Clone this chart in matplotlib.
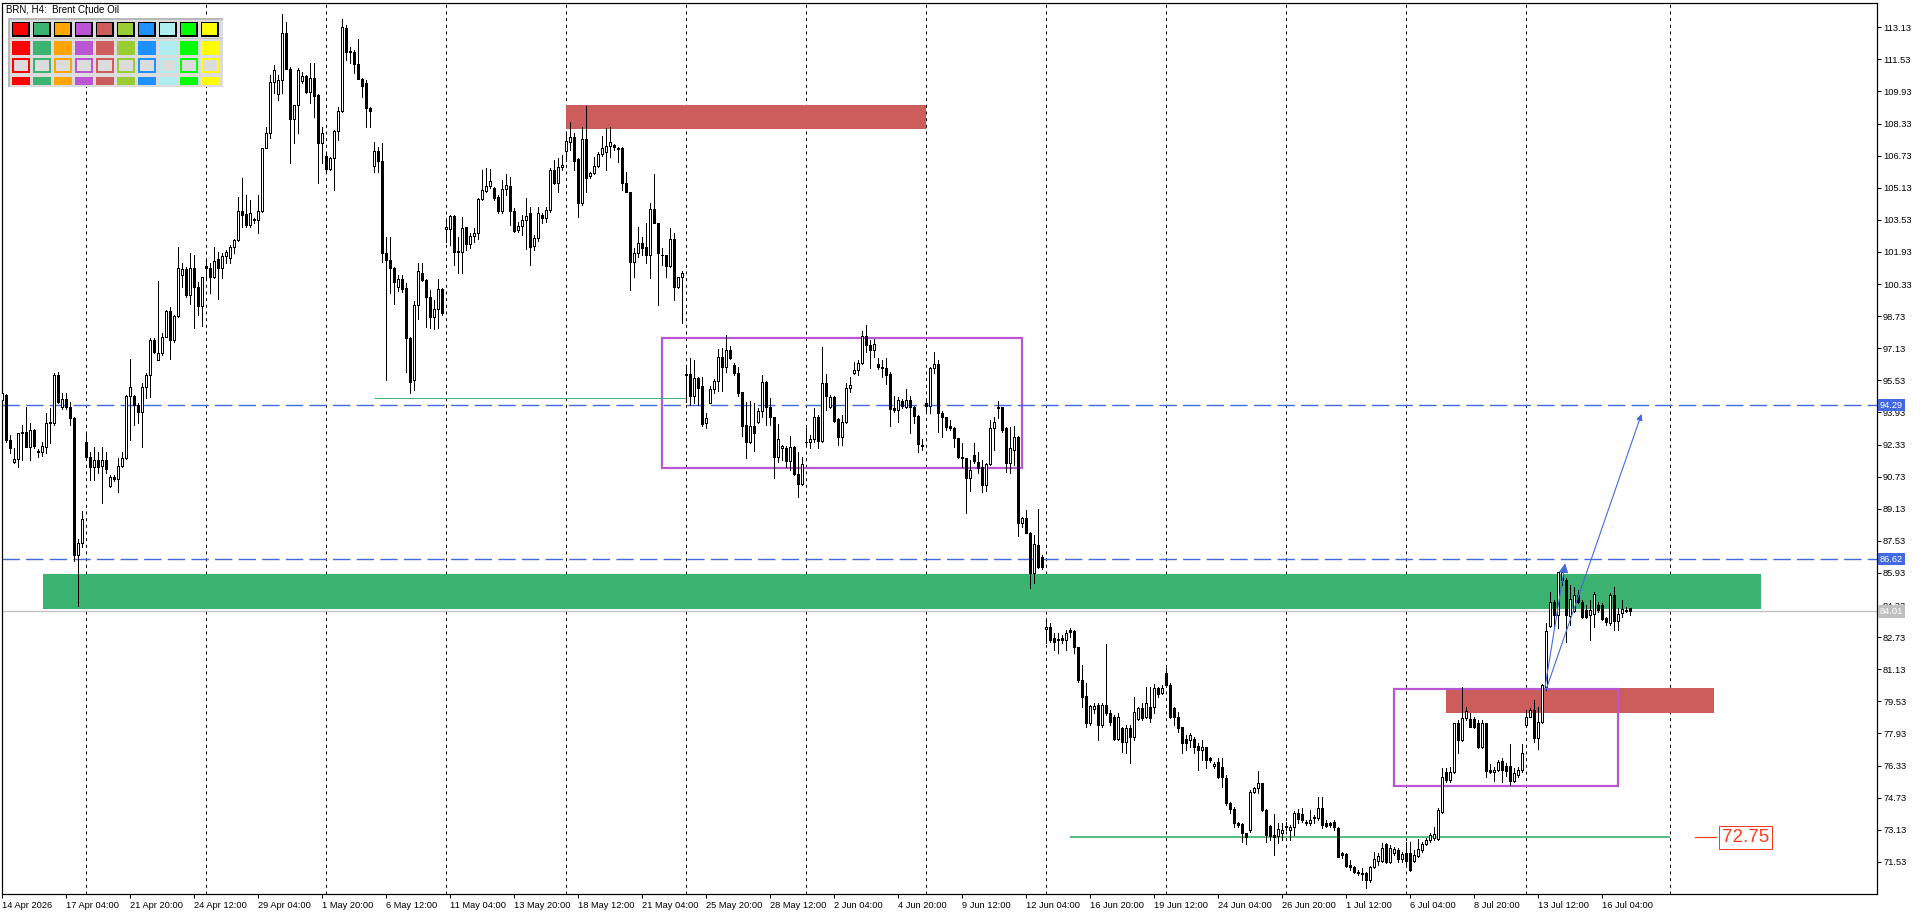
import matplotlib
matplotlib.use("Agg")
import matplotlib.pyplot as plt
from matplotlib.patches import Rectangle
from matplotlib.collections import PatchCollection, LineCollection
from matplotlib.transforms import blended_transform_factory

W, H, DPI = 1920, 915, 100
PX = 72.0 / DPI          # one screen pixel in points
plt.rcParams['lines.scale_dashes'] = False
plt.rcParams['font.family'] = ['Liberation Sans', 'DejaVu Sans']

# ---------------- data (H4 bars, 14 Apr 2026 12:00 .. 17 Jul 2026) ----------------
opens = [
    94.55, 94.80, 92.56, 91.47, 91.59, 92.89, 92.94, 92.22, 93.05, 92.00,
    91.94, 92.22, 93.42, 93.40, 95.80, 94.18, 94.60, 94.22, 93.64, 86.80,
    87.40, 92.47, 91.69, 91.19, 91.56, 91.26, 91.56, 90.28, 90.73, 90.60,
    91.26, 91.64, 94.75, 94.75, 94.30, 93.93, 95.18, 95.80, 97.54, 96.54,
    96.88, 97.71, 98.99, 97.54, 98.74, 100.78, 101.06, 99.78, 101.15, 100.17,
    99.24, 101.25, 101.11, 100.66, 101.56, 101.11, 101.74, 101.61, 102.19, 102.53,
    103.99, 103.82, 103.27, 103.52, 103.52, 103.99, 107.10, 107.84, 110.39, 109.79,
    110.50, 112.83, 111.03, 108.54, 109.24, 110.44, 110.70, 109.89, 110.60, 109.75,
    107.35, 106.71, 106.07, 106.60, 107.98, 108.94, 113.08, 111.96, 111.91, 111.30,
    110.57, 110.34, 109.09, 106.21, 106.98, 106.46, 101.86, 101.53, 101.15, 100.20,
    100.57, 100.11, 97.62, 95.54, 99.28, 100.90, 100.53, 99.67, 98.70, 99.07,
    100.06, 103.06, 103.06, 103.72, 101.99, 101.91, 103.16, 102.32, 102.72, 102.86,
    104.57, 104.98, 105.22, 105.10, 104.68, 103.99, 105.05, 105.22, 103.99, 103.02,
    103.22, 103.52, 103.89, 102.22, 102.61, 103.77, 103.61, 104.02, 106.01, 105.35,
    106.15, 106.98, 107.43, 107.68, 106.55, 104.35, 107.54, 105.71, 105.85, 106.21,
    106.81, 106.93, 107.21, 107.24, 107.10, 107.10, 105.38, 104.93, 101.45, 101.89,
    102.36, 102.16, 101.78, 104.06, 103.36, 101.80, 101.78, 101.23, 102.56, 100.20,
    100.66, 95.83, 95.83, 94.77, 95.63, 95.25, 93.39, 94.42, 95.08, 95.50,
    96.68, 96.18, 97.04, 96.30, 95.88, 94.97, 93.30, 92.47, 93.26, 93.47,
    94.02, 95.47, 94.22, 93.69, 91.69, 92.14, 92.18, 91.53, 92.23, 90.86,
    90.36, 92.44, 92.48, 92.59, 93.72, 92.53, 95.38, 94.22, 94.68, 93.59,
    92.72, 93.47, 95.13, 95.92, 96.05, 96.38, 97.74, 97.29, 97.04, 96.35,
    96.18, 96.13, 95.85, 94.14, 94.05, 94.52, 94.22, 94.55, 94.19, 93.75,
    92.31, 94.39, 94.25, 96.13, 96.35, 93.92, 93.69, 93.26, 93.14, 92.64,
    91.64, 91.64, 90.65, 91.81, 91.48, 91.23, 90.31, 91.36, 93.14, 94.14,
    94.19, 93.14, 91.40, 92.06, 92.72, 88.44, 88.65, 87.94, 85.91, 87.32,
    86.71, 83.12, 83.22, 82.67, 82.60, 82.67, 82.58, 83.08, 83.05, 82.22,
    80.59, 79.79, 78.46, 79.13, 79.35, 78.35, 79.35, 78.93, 78.76, 77.63,
    78.18, 77.52, 78.18, 77.77, 78.65, 79.18, 78.76, 79.26, 79.26, 80.18,
    79.95, 80.96, 80.34, 79.18, 78.76, 78.23, 77.63, 77.60, 77.63, 77.30,
    77.10, 77.23, 76.69, 76.30, 76.52, 76.24, 75.69, 74.48, 74.14, 73.48,
    73.41, 72.95, 73.11, 75.02, 75.19, 75.44, 74.11, 73.31, 72.86, 72.81,
    72.95, 73.31, 73.11, 73.25, 73.94, 73.91, 73.53, 73.48, 73.70, 73.70,
    74.19, 73.48, 73.48, 73.53, 73.20, 71.95, 71.92, 71.35, 71.25, 71.04,
    70.99, 70.95, 70.62, 71.25, 71.59, 71.59, 72.41, 71.53, 71.95, 72.12,
    71.65, 71.95, 71.98, 71.59, 71.82, 72.12, 72.41, 72.61, 72.70, 72.65,
    74.03, 76.02, 75.61, 76.02, 78.43, 77.60, 78.68, 78.63, 78.63, 78.43,
    77.23, 78.43, 76.10, 76.02, 76.10, 76.57, 76.30, 76.30, 75.57, 75.86,
    76.10, 78.35, 78.76, 79.10, 77.68, 78.51, 80.26, 83.28, 84.50, 83.83,
    85.58, 85.58, 83.78, 84.05, 84.83, 84.50, 84.08, 83.83, 83.88, 84.33,
    84.33, 83.67, 83.42, 84.83, 83.55, 83.95, 84.05, 84.16,
]
highs = [
    95.00, 94.85, 92.80, 92.14, 92.89, 93.30, 94.20, 93.40, 93.10, 92.10,
    92.46, 93.88, 94.13, 95.90, 95.96, 94.88, 94.88, 94.47, 93.70, 87.60,
    89.00, 92.89, 91.97, 92.22, 91.97, 92.22, 91.97, 90.81, 90.80, 91.64,
    91.97, 94.80, 96.58, 94.80, 94.38, 95.38, 95.91, 97.62, 97.62, 100.48,
    97.87, 99.04, 99.20, 98.79, 102.19, 101.36, 101.20, 101.86, 101.78, 100.45,
    100.70, 101.53, 101.36, 102.16, 101.94, 101.86, 102.03, 102.28, 102.59, 104.65,
    105.60, 104.77, 104.52, 103.60, 104.77, 107.11, 108.17, 110.75, 111.25, 110.75,
    113.79, 113.41, 111.17, 109.24, 111.08, 110.92, 110.75, 111.33, 111.33, 109.80,
    108.18, 106.85, 106.65, 108.01, 109.17, 113.53, 113.24, 112.16, 111.99, 112.53,
    110.59, 110.50, 109.17, 107.43, 107.18, 107.38, 102.69, 102.69, 101.20, 100.80,
    100.78, 100.37, 97.71, 99.50, 101.39, 101.36, 100.56, 100.03, 99.53, 100.56,
    100.11, 103.52, 103.77, 103.77, 102.66, 103.69, 103.19, 102.86, 103.11, 104.60,
    106.01, 106.10, 106.05, 105.18, 104.77, 105.51, 105.81, 105.68, 104.10, 103.44,
    103.77, 104.60, 104.19, 102.77, 104.19, 103.85, 104.19, 106.10, 106.51, 106.59,
    106.76, 107.84, 108.42, 107.84, 106.59, 108.14, 109.20, 105.93, 106.68, 106.93,
    107.71, 108.09, 108.17, 107.30, 107.18, 107.18, 105.93, 104.93, 102.11, 103.19,
    102.69, 103.36, 104.35, 105.80, 103.39, 102.11, 101.78, 103.11, 102.86, 100.70,
    100.99, 96.21, 96.63, 96.55, 95.72, 95.72, 93.89, 95.25, 95.58, 97.08,
    97.13, 97.79, 97.24, 96.38, 96.18, 94.97, 94.47, 94.52, 94.39, 94.14,
    95.80, 95.52, 94.64, 93.72, 93.36, 92.31, 92.26, 92.76, 92.26, 91.98,
    91.73, 93.14, 92.81, 94.14, 93.80, 97.21, 95.85, 94.80, 94.75, 93.64,
    93.80, 95.42, 95.68, 96.46, 96.55, 98.01, 98.29, 97.54, 97.58, 96.63,
    96.55, 96.63, 95.96, 94.75, 94.72, 94.59, 95.08, 94.75, 94.25, 93.80,
    92.59, 94.64, 96.21, 96.96, 96.55, 94.02, 93.72, 93.55, 93.22, 92.64,
    92.39, 91.64, 91.56, 92.39, 91.98, 91.56, 91.40, 93.55, 93.72, 94.52,
    94.22, 93.19, 93.19, 93.26, 92.76, 88.74, 89.07, 87.99, 87.82, 89.10,
    86.83, 83.58, 83.42, 82.92, 82.92, 82.83, 83.08, 83.17, 83.08, 82.25,
    81.34, 80.42, 79.35, 79.43, 79.43, 79.43, 82.39, 79.10, 78.85, 78.93,
    78.26, 78.35, 78.35, 79.76, 79.26, 79.43, 80.26, 80.26, 80.39, 80.26,
    80.34, 81.17, 80.42, 79.26, 79.01, 78.26, 77.85, 77.93, 77.77, 77.43,
    77.60, 77.27, 76.77, 76.52, 76.69, 76.69, 75.86, 74.53, 74.28, 73.53,
    73.45, 72.98, 75.11, 75.27, 76.07, 75.47, 74.14, 73.35, 73.91, 73.45,
    73.45, 73.53, 73.36, 74.08, 74.14, 74.19, 73.61, 74.11, 73.86, 74.77,
    74.77, 73.61, 73.53, 73.61, 73.28, 72.03, 71.95, 71.62, 71.32, 71.12,
    71.20, 71.04, 71.32, 72.03, 71.98, 72.45, 72.48, 72.37, 72.28, 72.20,
    72.03, 72.53, 72.53, 72.12, 72.65, 72.53, 72.70, 72.95, 73.28, 74.19,
    76.19, 76.19, 76.27, 78.46, 78.60, 80.26, 79.26, 78.93, 78.76, 78.60,
    78.60, 78.46, 76.40, 76.27, 76.60, 76.69, 76.47, 77.40, 76.19, 76.27,
    77.40, 79.10, 79.18, 79.59, 79.26, 80.39, 83.42, 84.99, 84.58, 85.99,
    86.04, 85.66, 85.33, 85.24, 85.08, 84.58, 84.33, 84.58, 84.99, 84.50,
    84.41, 83.75, 84.91, 85.24, 84.16, 84.58, 84.25, 84.16,
]
lows = [
    94.45, 92.48, 91.90, 91.40, 91.20, 91.55, 92.22, 91.55, 92.14, 91.70,
    91.76, 91.89, 92.39, 93.30, 94.40, 94.10, 94.12, 93.30, 86.50, 84.30,
    87.20, 91.56, 90.56, 90.56, 90.89, 89.40, 90.89, 90.23, 90.50, 89.98,
    91.20, 91.60, 92.56, 93.30, 93.39, 92.22, 94.63, 94.71, 96.90, 96.54,
    96.79, 97.71, 96.58, 97.46, 98.70, 100.20, 99.70, 99.33, 98.16, 98.79,
    98.24, 100.53, 99.90, 100.62, 99.58, 100.62, 101.36, 101.36, 101.86, 102.49,
    103.19, 103.16, 103.19, 103.35, 102.89, 103.94, 107.10, 107.59, 109.87, 109.50,
    109.87, 111.03, 106.35, 107.35, 107.84, 110.34, 109.84, 109.34, 108.67, 105.35,
    106.35, 105.95, 106.00, 105.02, 107.51, 108.92, 111.50, 111.33, 110.83, 110.54,
    109.67, 108.18, 108.14, 105.93, 105.93, 101.45, 95.55, 99.87, 99.33, 100.00,
    99.95, 95.96, 94.90, 95.05, 98.60, 100.50, 98.20, 98.12, 98.07, 98.12,
    98.79, 102.44, 102.27, 101.28, 100.90, 100.86, 102.03, 102.11, 102.44, 102.56,
    104.52, 104.93, 105.10, 104.52, 103.89, 103.85, 104.77, 103.27, 102.94, 102.94,
    102.77, 102.06, 101.28, 102.03, 102.49, 103.36, 103.44, 103.94, 105.32, 104.93,
    106.01, 106.48, 107.01, 106.01, 103.69, 104.27, 104.93, 105.60, 105.81, 106.15,
    106.71, 106.01, 106.65, 107.00, 106.43, 105.02, 104.93, 100.03, 100.70, 101.69,
    101.78, 101.36, 100.61, 103.36, 99.28, 101.28, 100.70, 101.20, 99.53, 100.11,
    98.40, 94.47, 94.30, 94.39, 94.30, 93.26, 93.14, 94.39, 94.88, 95.02,
    95.02, 95.96, 96.58, 95.80, 94.75, 92.76, 91.68, 92.43, 92.03, 93.39,
    93.72, 93.30, 93.30, 90.65, 91.48, 91.56, 91.23, 91.06, 90.81, 89.73,
    90.31, 92.30, 92.14, 92.47, 92.14, 92.48, 94.05, 94.14, 93.47, 92.31,
    92.31, 93.42, 94.97, 95.85, 95.80, 96.35, 96.96, 96.13, 96.68, 96.08,
    95.68, 95.35, 93.26, 93.97, 93.47, 94.14, 94.14, 92.92, 93.42, 91.98,
    92.06, 93.97, 93.92, 95.91, 92.97, 92.72, 93.06, 93.06, 92.23, 91.64,
    91.23, 88.90, 90.03, 91.40, 90.90, 89.98, 90.03, 91.31, 92.06, 93.64,
    92.97, 90.98, 90.90, 91.31, 87.77, 88.24, 87.91, 85.16, 85.41, 86.16,
    86.11, 82.42, 82.50, 82.09, 81.92, 82.42, 82.09, 82.75, 81.92, 80.51,
    79.26, 78.23, 78.35, 78.93, 77.60, 78.26, 78.85, 78.35, 77.60, 77.60,
    77.02, 76.94, 76.44, 77.60, 78.60, 78.60, 78.68, 78.51, 78.93, 79.76,
    79.90, 80.26, 78.68, 78.35, 78.02, 76.94, 77.10, 77.27, 76.94, 76.10,
    76.60, 76.19, 76.52, 76.19, 75.69, 75.27, 74.36, 73.94, 73.28, 73.28,
    72.53, 72.41, 73.03, 74.94, 74.94, 74.08, 72.53, 72.61, 71.87, 72.45,
    72.61, 73.11, 72.61, 72.86, 73.45, 73.53, 73.36, 73.36, 73.45, 73.61,
    73.20, 73.25, 73.28, 73.11, 71.75, 71.70, 71.29, 71.12, 70.95, 70.87,
    70.62, 70.21, 70.54, 71.20, 71.37, 71.53, 71.45, 71.45, 71.87, 71.53,
    71.53, 71.37, 71.09, 71.53, 71.78, 72.03, 72.37, 72.53, 72.61, 72.61,
    73.98, 75.52, 75.52, 75.94, 76.94, 77.57, 78.60, 78.23, 78.18, 77.18,
    77.18, 75.77, 75.97, 75.57, 76.07, 75.52, 75.81, 75.36, 75.52, 75.77,
    76.02, 78.26, 78.73, 77.52, 77.13, 78.46, 80.09, 83.22, 83.17, 83.17,
    85.33, 82.50, 83.33, 84.00, 84.41, 83.67, 83.67, 82.58, 83.22, 84.00,
    83.58, 83.33, 83.33, 83.08, 83.08, 83.72, 84.00, 83.83,
]
closes = [
    94.90, 92.56, 92.14, 91.59, 92.89, 92.94, 92.22, 93.05, 92.27, 91.97,
    92.26, 93.42, 93.47, 95.80, 94.47, 94.60, 94.18, 93.64, 86.80, 87.40,
    88.60, 91.69, 91.19, 91.56, 91.19, 91.56, 91.09, 90.73, 90.61, 91.26,
    91.64, 94.75, 95.18, 94.30, 93.93, 95.18, 95.80, 97.54, 96.93, 96.88,
    97.71, 98.99, 97.54, 98.74, 101.15, 101.06, 99.78, 101.15, 100.17, 99.24,
    100.66, 101.11, 100.66, 101.50, 101.11, 101.74, 101.91, 102.19, 102.53, 103.99,
    103.77, 103.27, 103.89, 103.55, 103.99, 107.10, 107.84, 110.39, 111.00, 110.50,
    112.83, 111.03, 108.54, 109.24, 110.99, 110.70, 109.89, 110.60, 109.72, 107.35,
    107.84, 106.07, 106.60, 107.98, 108.94, 113.13, 111.91, 111.88, 111.30, 110.57,
    110.20, 109.09, 108.96, 106.98, 106.46, 101.86, 101.53, 101.11, 100.45, 100.57,
    100.07, 97.62, 95.46, 99.28, 100.98, 100.53, 99.70, 98.70, 99.07, 100.06,
    98.87, 103.18, 103.72, 101.94, 101.91, 103.11, 102.32, 102.72, 102.86, 104.57,
    105.02, 105.22, 105.47, 104.60, 103.99, 105.05, 105.27, 103.99, 102.99, 103.22,
    103.52, 103.72, 102.19, 102.61, 103.89, 103.61, 104.02, 106.01, 105.35, 106.15,
    106.26, 107.46, 107.68, 106.48, 104.35, 107.54, 105.60, 105.85, 106.21, 106.81,
    107.10, 107.21, 107.39, 107.18, 107.04, 105.38, 104.93, 101.45, 101.89, 102.36,
    102.11, 101.78, 104.06, 103.36, 101.86, 101.78, 101.23, 102.56, 100.20, 100.66,
    100.90, 95.78, 94.77, 95.63, 95.17, 93.34, 93.64, 95.08, 95.50, 96.68,
    96.18, 97.04, 96.63, 95.88, 94.92, 93.26, 92.47, 93.26, 92.89, 94.02,
    95.47, 94.19, 93.69, 91.69, 92.59, 92.27, 91.53, 92.23, 90.86, 90.36,
    91.34, 92.48, 92.59, 93.72, 92.53, 95.38, 94.75, 94.68, 93.52, 92.72,
    93.47, 95.13, 95.30, 96.05, 96.38, 97.74, 97.29, 97.04, 97.34, 96.18,
    96.13, 95.80, 94.09, 94.05, 94.55, 94.25, 94.55, 94.19, 93.75, 92.36,
    92.26, 94.25, 96.13, 96.35, 93.92, 93.69, 93.22, 93.14, 92.64, 91.69,
    91.70, 90.65, 91.06, 91.53, 91.15, 90.31, 91.36, 93.14, 93.47, 94.19,
    93.06, 91.40, 92.14, 92.72, 88.44, 88.65, 87.94, 85.91, 87.37, 86.21,
    86.21, 83.25, 82.58, 82.50, 82.62, 82.58, 82.92, 83.00, 82.22, 80.59,
    79.73, 78.46, 79.30, 79.30, 78.35, 79.35, 78.93, 78.51, 77.63, 78.76,
    77.52, 78.18, 77.77, 79.01, 79.18, 78.68, 79.43, 78.68, 80.18, 79.89,
    80.20, 80.34, 78.76, 78.76, 78.18, 77.43, 77.43, 77.85, 77.27, 77.10,
    77.23, 76.60, 76.60, 76.40, 75.74, 75.74, 74.44, 74.14, 73.45, 73.36,
    72.95, 72.78, 75.02, 75.19, 75.44, 74.11, 72.86, 72.81, 72.75, 73.15,
    73.11, 73.25, 73.25, 73.94, 73.65, 73.61, 73.48, 73.61, 73.75, 74.19,
    73.36, 73.31, 73.36, 73.25, 71.78, 71.87, 71.32, 71.25, 71.04, 70.95,
    70.92, 70.62, 71.25, 71.65, 71.82, 72.20, 71.53, 72.20, 72.15, 71.65,
    71.92, 71.59, 71.12, 71.87, 72.15, 72.41, 72.61, 72.86, 72.91, 74.11,
    75.74, 75.61, 76.02, 78.43, 77.60, 78.68, 79.06, 78.26, 78.26, 77.23,
    78.43, 76.07, 76.02, 76.10, 76.52, 76.10, 76.07, 75.57, 75.94, 76.10,
    76.94, 78.76, 79.10, 77.68, 78.51, 80.34, 83.05, 84.50, 83.83, 85.96,
    85.99, 83.83, 84.61, 84.83, 84.50, 83.72, 83.72, 84.08, 84.88, 84.08,
    83.62, 83.50, 84.83, 83.55, 83.88, 84.11, 84.08, 84.01,
]

price_ticks = [113.13, 111.53, 109.93, 108.33, 106.73, 105.13, 103.53, 101.93, 100.33,
               98.73, 97.13, 95.53, 93.93, 92.33, 90.73, 89.13, 87.53, 85.93, 84.33,
               82.73, 81.13, 79.53, 77.93, 76.33, 74.73, 73.13, 71.53]
date_labels = ["14 Apr 2026", "17 Apr 04:00", "21 Apr 20:00", "24 Apr 12:00", "29 Apr 04:00",
               "1 May 20:00", "6 May 12:00", "11 May 04:00", "13 May 20:00", "18 May 12:00",
               "21 May 04:00", "25 May 20:00", "28 May 12:00", "2 Jun 04:00", "4 Jun 20:00",
               "9 Jun 12:00", "12 Jun 04:00", "16 Jun 20:00", "19 Jun 12:00", "24 Jun 04:00",
               "26 Jun 20:00", "1 Jul 12:00", "6 Jul 04:00", "8 Jul 20:00", "13 Jul 12:00",
               "16 Jul 04:00"]
date_bars = [0, 16, 32, 48, 64, 80, 96, 112, 128, 144, 160, 176, 192, 208, 224,
             240, 256, 272, 288, 304, 320, 336, 352, 368, 384, 400]
week_bars = [21, 51, 81, 111, 141, 171, 201, 231, 261, 291, 321, 351, 381, 417]

# analysis objects: (bar from, bar to, price low, price high)
red_zones = [(141, 231, 108.06, 109.25), (361, 428, 78.96, 80.18)]
green_zones = [(10.2, 439.7, 84.14, 85.88)]
boxes = [(164.85, 255.0, 91.18, 97.66), (347.8, 403.9, 75.31, 80.14)]
blue_levels = [94.29, 86.62]
bid_price = 84.01
support_lines = [(93, 171, 94.63, 1.0), (266.9, 416.9, 72.75, 1.7)]
arrows = [(385.7, 80.26, 390.7, 86.41, 14), (385.9, 80.09, 409.8, 93.85, 9)]
label_price = 72.75
palette = ['#FF0000', '#3CB371', '#FFA500', '#BA55D3', '#CD5C5C',
           '#9ACD32', '#1E90FF', '#AFEEEE', '#00FF00', '#FFFF00']

# ---------------- layout (pixel geometry of the terminal window) ----------------
ax_l, ax_r, ax_t, ax_b = 2.3, 1877.0, 2.5, 894.0
x_max = (ax_r - ax_l) / 4.0                     # 4 px per bar
y_top = 113.13 + (27.3 - ax_t) / 20.06           # 20.06 px per price unit
y_bot = 113.13 - (ax_b - 27.3) / 20.06

fig = plt.figure(figsize=(W / DPI, H / DPI), dpi=DPI)
fig.patch.set_facecolor('white')
ax = fig.add_axes([ax_l / W, 1 - ax_b / H, (ax_r - ax_l) / W, (ax_b - ax_t) / H])
ax.set_xlim(0, x_max)
ax.set_ylim(y_bot, y_top)
ax.set_facecolor('white')
for s in ax.spines.values():
    s.set_color('black')
    s.set_linewidth(1.2 * PX)

# weekly period separators
for wb in week_bars:
    ax.axvline(wb, color='black', lw=1.0 * PX, dashes=(2.2, 2.6), zorder=1)

# zones
for x0, x1, p0, p1 in red_zones:
    ax.add_patch(Rectangle((x0, p0), x1 - x0, p1 - p0, fc='#CD5C5C', ec='none', zorder=2))
for x0, x1, p0, p1 in green_zones:
    ax.add_patch(Rectangle((x0, p0), x1 - x0, p1 - p0, fc='#3CB371', ec='none', zorder=2))
for x0, x1, p0, p1 in boxes:
    ax.add_patch(Rectangle((x0, p0), x1 - x0, p1 - p0, fc='none', ec='#BA55D3',
                           lw=2.2 * PX, zorder=2.2))

# levels
for lv in blue_levels:
    ax.axhline(lv, color='#4169E1', lw=1.4 * PX, dashes=(12.5, 4.5), zorder=2.5)
ax.axhline(bid_price, color='#C0C0C0', lw=1.3 * PX, zorder=2.4)
for x0, x1, p, lw in support_lines:
    ax.plot([x0, x1], [p, p], color='#3CB371', lw=lw * PX, zorder=2.6,
            solid_capstyle='butt')

# candles
n = min(len(opens), len(highs), len(lows), len(closes))
wicks = [[(i, lows[i]), (i, highs[i])] for i in range(n)]
ax.add_collection(LineCollection(wicks, colors='black', linewidths=1.0 * PX,
                                 antialiased=False, zorder=3))
bodies_w, bodies_b = [], []
for i in range(n):
    lo, hi = min(opens[i], closes[i]), max(opens[i], closes[i])
    r = Rectangle((i - 0.25, lo), 0.5, hi - lo)
    (bodies_w if closes[i] >= opens[i] else bodies_b).append(r)
ax.add_collection(PatchCollection(bodies_w, facecolor='white', edgecolor='black',
                                  linewidths=1.0 * PX, antialiased=False, zorder=3.2))
ax.add_collection(PatchCollection(bodies_b, facecolor='black', edgecolor='black',
                                  linewidths=1.0 * PX, antialiased=False, zorder=3.2))

# trend arrows
for x0, p0, x1, p1, ms in arrows:
    ax.annotate('', xy=(x1, p1), xytext=(x0, p0),
                arrowprops=dict(arrowstyle='-|>', color='#4169E1', lw=1.1 * PX,
                                mutation_scale=ms, shrinkA=0, shrinkB=0), zorder=4)

# right price label object
ax.plot([x_max - 45.5, x_max - 40.3], [label_price, label_price], color='#FF3B1D',
        lw=1.2 * PX, zorder=4)
ax.text(x_max - 38.8, label_price, f'{label_price:.2f}', color='#FF3B1D', fontsize=13.5,
        va='center', ha='left', zorder=5,
        bbox=dict(boxstyle='square,pad=0.16', fc='white', ec='#FF3B1D', lw=1.0 * PX))

# axes ticks
ax.yaxis.tick_right()
ax.set_yticks(price_ticks)
ax.set_yticklabels([f'{p:.2f}' for p in price_ticks])
ax.tick_params(axis='y', direction='out', length=4 * PX, width=1 * PX, pad=1.5,
               labelsize=6.7, colors='black')
ax.set_xticks(date_bars)
ax.set_xticklabels(date_labels)
ax.tick_params(axis='x', direction='out', length=4 * PX, width=1 * PX, pad=2,
               labelsize=6.7, colors='black')
for lab in ax.get_xticklabels():
    lab.set_ha('left')

# price tags on the axis
tr = blended_transform_factory(ax.transAxes, ax.transData)
for lv in blue_levels:
    ax.text(1.0015, lv, f'{lv:.2f}', transform=tr, color='white', fontsize=6.7,
            va='center', ha='left', clip_on=False, zorder=6,
            bbox=dict(boxstyle='square,pad=0.18', fc='#4169E1', ec='none'))
ax.text(1.0015, bid_price, f'{bid_price:.2f}', transform=tr, color='white', fontsize=6.7,
        va='center', ha='left', clip_on=False, zorder=6,
        bbox=dict(boxstyle='square,pad=0.18', fc='#C0C0C0', ec='none'))

# ---------------- overlay in pixel coordinates (title + colour panel) ----------------
ov = fig.add_axes([0, 0, 1, 1], zorder=10)
ov.set_xlim(0, W)
ov.set_ylim(H, 0)
ov.axis('off')
ov.text(6.5, 10, 'BRN, H4:  Brent Crude Oil', fontsize=7, va='center', ha='left')
ov.add_patch(Rectangle((8, 18), 215, 69, fc='#DCDCDC', ec='none'))
ov.add_patch(Rectangle((8, 18), 215, 2, fc='#B8B8B8', ec='none'))
ov.add_patch(Rectangle((8, 18), 2, 69, fc='#B8B8B8', ec='none'))
ov.add_patch(Rectangle((10, 37.5), 213, 1.6, fc='#C4C4C4', ec='none'))
for k, c in enumerate(palette):
    x = 11.7 + 21 * k
    ov.add_patch(Rectangle((x, 21.7), 18.3, 15, fc='black', ec='none'))
    ov.add_patch(Rectangle((x + 1.5, 22.7), 15, 12, fc=c, ec='none'))
    ov.add_patch(Rectangle((x, 40.7), 18.3, 14.3, fc=c, ec='none'))
    ov.add_patch(Rectangle((x + 0.8, 58.5), 16.7, 13.2, fc='#DCDCDC', ec=c, lw=2 * PX))
    ov.add_patch(Rectangle((x, 76.7), 18.3, 8.3, fc=c, ec='none'))

fig.savefig('out.png', dpi=DPI, facecolor='white')
